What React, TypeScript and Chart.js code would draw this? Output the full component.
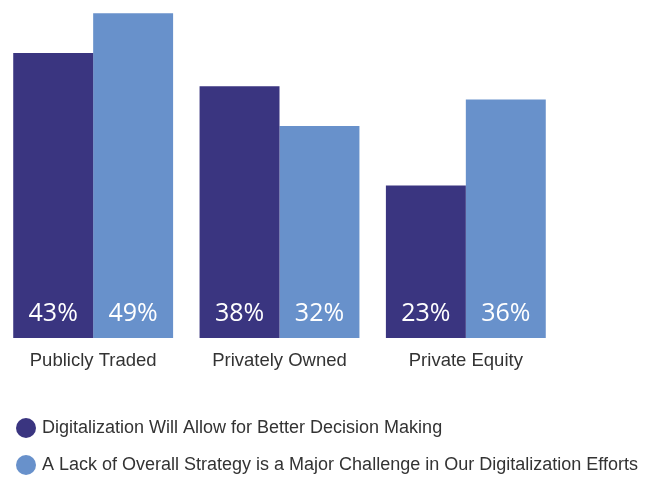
import React, { useEffect, useRef } from "react";
import { Chart, registerables } from "chart.js";

Chart.register(...registerables);

const categories = ["Publicly Traded", "Privately Owned", "Private Equity"];
const betterDecisions = [43, 38, 23];
const lackOfStrategy = [49, 32, 36];
const seriesNames = [
  "Digitalization Will Allow for Better Decision Making",
  "A Lack of Overall Strategy is a Major Challenge in Our Digitalization Efforts",
];
const colors = ["#3a3580", "#6891cb"];

const overlay = {
  id: "overlay",
  afterDatasetsDraw(chart: any) {
    const ctx = chart.ctx;
    const x = chart.scales.x;
    const y = chart.scales.y;
    ctx.save();
    // value labels inside bars
    ctx.fillStyle = "#ffffff";
    ctx.font = "500 25px 'Open Sans', sans-serif";
    ctx.textAlign = "center";
    ctx.textBaseline = "middle";
    chart.data.datasets.forEach((ds: any, di: number) => {
      const meta = chart.getDatasetMeta(di);
      meta.data.forEach((bar: any, i: number) => {
        ctx.fillText(ds.data[i] + "%", bar.x, y.getPixelForValue(0) - 24);
      });
    });
    // category labels
    ctx.fillStyle = "#333333";
    ctx.font = "18.5px 'Liberation Sans', Arial, sans-serif";
    categories.forEach((c, i) => {
      ctx.fillText(c, x.getPixelForTick(i), y.getPixelForValue(0) + 23);
    });
    // legend
    ctx.textAlign = "left";
    ctx.font = "18px 'Liberation Sans', Arial, sans-serif";
    const rows = [428, 465];
    seriesNames.forEach((n, i) => {
      ctx.fillStyle = colors[i];
      ctx.beginPath();
      ctx.arc(26, rows[i], 10, 0, Math.PI * 2);
      ctx.fill();
      ctx.fillStyle = "#333333";
      ctx.fillText(n, 42, rows[i]);
    });
    ctx.restore();
  },
};

export default function App() {
  const ref = useRef<HTMLCanvasElement>(null);
  useEffect(() => {
    const chart = new Chart(ref.current!, {
      type: "bar",
      data: {
        labels: categories,
        datasets: [
          { label: seriesNames[0], data: betterDecisions, backgroundColor: colors[0] },
          { label: seriesNames[1], data: lackOfStrategy, backgroundColor: colors[1] },
        ],
      },
      options: {
        animation: false,
        responsive: false,
        maintainAspectRatio: false,
        layout: { padding: { left: 0, right: 86, top: 0, bottom: 140 } },
        datasets: { bar: { categoryPercentage: 0.858, barPercentage: 1 } },
        scales: {
          x: { display: false },
          y: { display: false, min: 0, max: 51 },
        },
        plugins: { legend: { display: false }, tooltip: { enabled: false } },
      },
      plugins: [overlay],
    });
    return () => chart.destroy();
  }, []);
  return (
    <div style={{ position: "fixed", left: 0, top: 0, width: 645, height: 478, background: "#fff" }}>
      <canvas ref={ref} width={645} height={478} style={{ width: 645, height: 478 }} />
    </div>
  );
}
